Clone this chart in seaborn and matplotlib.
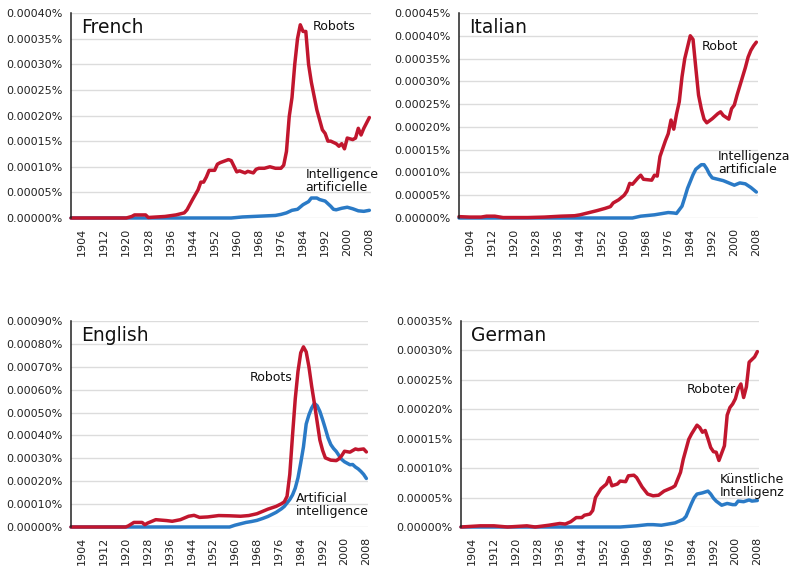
import matplotlib
matplotlib.use("Agg")
import matplotlib.pyplot as plt
import seaborn as sns
from matplotlib.ticker import FuncFormatter

# values are in millionths of a percent (350 -> 0.00035%)
RED = "#c1162e"
BLUE = "#2a7ac6"
X_TICKS = list(range(1904, 2009, 8))

# French
fr_robots_years = [1900, 1920, 1922, 1923, 1927, 1928, 1934, 1938, 1941, 1942, 1944, 1946, 1947, 1948,
                   1949, 1950, 1952, 1953, 1954, 1957, 1958, 1959, 1960, 1961, 1962, 1963, 1964, 1966,
                   1967, 1968, 1970, 1972, 1974, 1976, 1977, 1978, 1979, 1980, 1981, 1982, 1983, 1984,
                   1985, 1986, 1987, 1989, 1991, 1992, 1993, 1994, 1996, 1997, 1998, 1999, 2000, 2002,
                   2003, 2004, 2005, 2006, 2008]
fr_robots = [0, 0, 3, 6, 6, 1, 3, 6, 10, 16, 36, 55, 70, 70,
             80, 93, 93, 105, 108, 114, 112, 101, 90, 92, 90, 88, 91, 88,
             95, 97, 97, 100, 97, 97, 103, 130, 198, 235, 300, 350, 377, 364,
             364, 300, 265, 211, 172, 165, 150, 150, 145, 140, 145, 135, 156, 153,
             156, 175, 162, 175, 196]
fr_ai_years = [1900, 1958, 1962, 1966, 1970, 1974, 1976, 1978, 1980, 1982, 1984, 1986, 1987, 1989,
               1990, 1992, 1993, 1994, 1995, 1996, 1998, 2000, 2002, 2004, 2006, 2008]
fr_ai = [0, 0, 2, 3, 4, 5, 7, 10, 15, 17, 26, 32, 39, 39,
         36, 33, 28, 23, 17, 16, 19, 21, 18, 14, 13, 15]

# Italian
it_robot_years = [1900, 1904, 1908, 1910, 1913, 1916, 1925, 1931, 1937, 1942, 1944, 1948, 1950, 1953,
                  1955, 1956, 1958, 1960, 1961, 1962, 1963, 1965, 1966, 1967, 1970, 1971, 1972, 1973,
                  1975, 1976, 1977, 1978, 1979, 1980, 1981, 1982, 1983, 1984, 1985, 1986, 1987, 1988,
                  1989, 1990, 1992, 1994, 1995, 1996, 1998, 1999, 2000, 2001, 2002, 2003, 2004, 2005,
                  2006, 2007, 2008]
it_robot = [3, 2, 2, 4, 4, 1, 1, 2, 4, 5, 7, 13, 16, 21,
            25, 33, 40, 50, 59, 76, 74, 88, 94, 85, 83, 94, 92, 135,
            170, 185, 215, 195, 228, 255, 310, 350, 375, 400, 392, 330, 270, 240,
            217, 209, 218, 229, 233, 225, 217, 240, 248, 270, 290, 310, 330, 353,
            368, 378, 386]
it_ai_years = [1900, 1963, 1966, 1971, 1976, 1978, 1979, 1981, 1982, 1983, 1984, 1985, 1986, 1987,
               1988, 1989, 1990, 1991, 1992, 1994, 1996, 1998, 2000, 2002, 2004, 2006, 2008]
it_ai = [0, 0, 4, 7, 12, 11, 10, 26, 45, 65, 80, 95, 107, 112,
         117, 117, 108, 96, 88, 85, 82, 77, 72, 77, 75, 67, 57]

# English
en_robots_years = [1900, 1920, 1921, 1923, 1926, 1927, 1928, 1931, 1935, 1937, 1940, 1943, 1945, 1947,
                   1950, 1954, 1958, 1962, 1965, 1968, 1970, 1972, 1975, 1977, 1978, 1979, 1980, 1981,
                   1982, 1983, 1984, 1985, 1986, 1987, 1988, 1989, 1990, 1991, 1992, 1993, 1995, 1997,
                   1998, 1999, 2000, 2002, 2004, 2005, 2007, 2008]
en_robots = [0, 0, 5, 20, 20, 10, 17, 32, 28, 25, 32, 47, 51, 42,
             44, 50, 49, 47, 50, 58, 68, 78, 90, 102, 110, 134, 230, 400,
             560, 680, 761, 787, 765, 700, 615, 540, 460, 380, 335, 302, 292, 290,
             298, 312, 331, 327, 341, 338, 341, 328]
en_ai_years = [1900, 1958, 1960, 1962, 1964, 1966, 1968, 1970, 1972, 1974, 1975, 1977, 1978, 1980,
               1981, 1982, 1983, 1984, 1985, 1986, 1987, 1988, 1989, 1990, 1991, 1992, 1993, 1994,
               1995, 1996, 1997, 1998, 1999, 2000, 2002, 2003, 2004, 2005, 2006, 2007, 2008]
en_ai = [0, 0, 8, 14, 20, 24, 29, 37, 46, 58, 64, 80, 90, 120,
         140, 170, 215, 280, 350, 450, 490, 520, 540, 530, 505, 469, 430, 389,
         360, 343, 330, 312, 295, 285, 272, 273, 262, 254, 243, 230, 212]

# German
de_robot_years = [1900, 1907, 1912, 1917, 1924, 1927, 1932, 1936, 1938, 1940, 1942, 1944, 1945, 1947,
                  1948, 1949, 1951, 1953, 1954, 1955, 1957, 1958, 1960, 1961, 1963, 1964, 1966, 1968,
                  1970, 1972, 1974, 1977, 1978, 1980, 1981, 1983, 1984, 1986, 1987, 1988, 1989, 1990,
                  1991, 1992, 1993, 1994, 1996, 1997, 1998, 1999, 2000, 2001, 2002, 2003, 2004, 2005,
                  2007, 2008]
de_robot = [0, 2, 2, 0, 2, 0, 3, 6, 5, 9, 16, 16, 20, 22,
            28, 50, 65, 73, 84, 70, 73, 78, 77, 87, 88, 84, 68, 56,
            53, 54, 61, 67, 70, 93, 115, 149, 158, 173, 169, 161, 164, 150,
            135, 128, 127, 113, 138, 190, 203, 209, 218, 235, 243, 220, 238, 280,
            289, 298]
de_ai_years = [1900, 1958, 1964, 1968, 1970, 1973, 1978, 1981, 1982, 1983, 1984, 1985, 1986, 1988,
               1990, 1991, 1992, 1993, 1995, 1997, 1999, 2000, 2001, 2003, 2005, 2006, 2008]
de_ai = [0, 0, 2, 4, 4, 3, 7, 13, 18, 29, 40, 50, 56, 58,
         61, 56, 49, 44, 37, 40, 38, 38, 44, 43, 46, 44, 45]


def pct_label(v, pos):
    return f"{v / 1e6:.5f}%"


def draw_panel(fig, rect, title, ymax, ystep, red, blue, red_label, blue_label):
    ax = fig.add_axes(rect)
    sns.lineplot(x=blue[0], y=blue[1], ax=ax, color=BLUE, linewidth=2.5, clip_on=False)
    sns.lineplot(x=red[0], y=red[1], ax=ax, color=RED, linewidth=2.5, clip_on=False)

    ax.set_xlim(1900, 2008.6)
    ax.set_ylim(0, ymax)
    ax.set_yticks(list(range(0, ymax + 1, ystep)))
    ax.yaxis.set_major_formatter(FuncFormatter(pct_label))
    ax.set_xticks(X_TICKS)
    ax.set_xticklabels([str(y) for y in X_TICKS], rotation=90)
    ax.tick_params(axis="both", length=0, labelsize=8, colors="#222222")
    ax.tick_params(axis="y", pad=6)
    ax.tick_params(axis="x", pad=7)
    ax.set_xlabel("")
    ax.set_ylabel("")

    ax.grid(axis="y", color="#dcdcdc", linewidth=1.0)
    ax.grid(axis="x", visible=False)
    ax.set_axisbelow(True)
    for side in ["top", "right", "bottom"]:
        ax.spines[side].set_visible(False)
    ax.spines["left"].set_color("#222222")
    ax.spines["left"].set_linewidth(1.1)

    ax.text(0.035, 0.975, title, transform=ax.transAxes, fontsize=13.5,
            ha="left", va="top", color="#111111")
    # series labels: (text, x, y, ha)
    for txt, x, y, ha in [red_label, blue_label]:
        ax.text(x, y, txt, fontsize=9, ha=ha, va="center", color="#111111",
                linespacing=1.0)
    return ax


def main():
    sns.set_style("white")
    plt.rcParams["font.family"] = ["DejaVu Sans"]

    fig = plt.figure(figsize=(7.92, 5.69), dpi=100)
    W, H = 792, 569

    def rect(left, right, top, bottom):
        return [left / W, 1 - bottom / H, (right - left) / W, (bottom - top) / H]

    draw_panel(fig, rect(71, 371, 13, 218), "French", 400, 50,
               (fr_robots_years, fr_robots), (fr_ai_years, fr_ai),
               ("Robots", 1987.4, 374, "left"),
               ("Intelligence\nartificielle", 1984.8, 73, "left"))
    draw_panel(fig, rect(459, 758, 13, 218), "Italian", 450, 50,
               (it_robot_years, it_robot), (it_ai_years, it_ai),
               ("Robot", 1988, 377, "left"),
               ("Intelligenza\nartificiale", 1994, 120, "left"))
    draw_panel(fig, rect(71, 368, 321, 527), "English", 900, 100,
               (en_robots_years, en_robots), (en_ai_years, en_ai),
               ("Robots", 1981.1, 651, "right"),
               ("Artificial\nintelligence", 1982.2, 94, "left"))
    draw_panel(fig, rect(461, 759, 321, 527), "German", 350, 50,
               (de_robot_years, de_robot), (de_ai_years, de_ai),
               ("Roboter", 1982.4, 234, "left"),
               ("Künstliche\nIntelligenz", 1994.4, 70, "left"))

    fig.savefig("out.png", dpi=100)
    plt.close(fig)


if __name__ == "__main__":
    main()
